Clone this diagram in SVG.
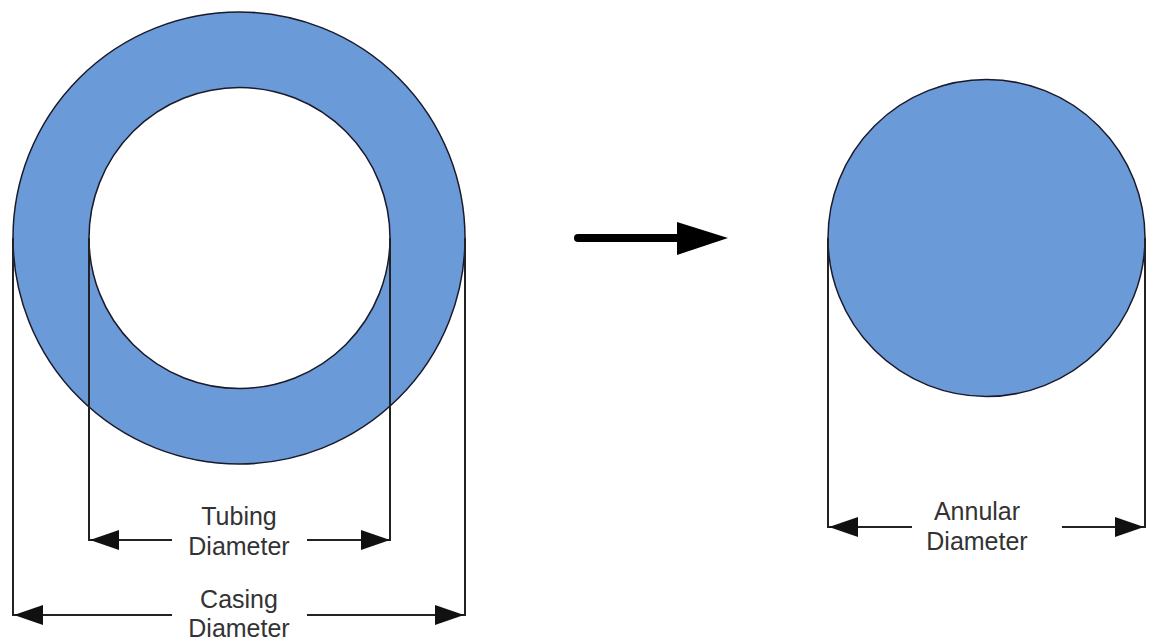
<svg xmlns="http://www.w3.org/2000/svg" width="1156" height="641" viewBox="0 0 1156 641">
<defs>
<style>
.fill{fill:#6b9ad8;stroke:#1a1a2a;stroke-width:1.5}
.hole{fill:#ffffff;stroke:#1a1a2a;stroke-width:1.5}
.dim{stroke:#222;stroke-width:2;fill:none}
.lbl{font-family:"Liberation Sans",Arial,sans-serif;font-size:25px;fill:#333;text-anchor:middle}
.head{fill:#111}
</style>
</defs>
<rect width="1156" height="641" fill="#ffffff"/>
<g id="casing">
<circle class="fill" cx="239" cy="238" r="226"/>
<circle class="hole" cx="239.5" cy="238" r="150.5"/>
</g>
<g id="annulus">
<circle class="fill" cx="986.5" cy="238" r="158.5"/>
</g>
<g id="connectors">
<line x1="578" y1="238" x2="680" y2="238" stroke="#000" stroke-width="8" stroke-linecap="round"/>
<polygon points="677,222 728,238 677,255" fill="#000"/>
<polyline class="dim" points="89,238 89,540 172,540"/>
<polyline class="dim" points="390,238 390,540 307,540"/>
<polygon class="head" points="90,540 119,530 119,550"/>
<polygon class="head" points="390,540 361,530 361,550"/>
<polyline class="dim" points="13,238 13,615 172,615"/>
<polyline class="dim" points="465,238 465,615 307,615"/>
<polygon class="head" points="14,615 43,605 43,625"/>
<polygon class="head" points="464,615 435,605 435,625"/>
<polyline class="dim" points="828,238 828,527 912,527"/>
<polyline class="dim" points="1145,238 1145,527 1062,527"/>
<polygon class="head" points="829,527 858,517 858,537"/>
<polygon class="head" points="1144,527 1115,517 1115,537"/>
</g>
<g id="labels">
<text class="lbl" x="239" y="525">Tubing</text>
<text class="lbl" x="239" y="555">Diameter</text>
<text class="lbl" x="239" y="608">Casing</text>
<text class="lbl" x="239" y="637">Diameter</text>
<text class="lbl" x="977" y="520">Annular</text>
<text class="lbl" x="977" y="550">Diameter</text>
</g>
</svg>
